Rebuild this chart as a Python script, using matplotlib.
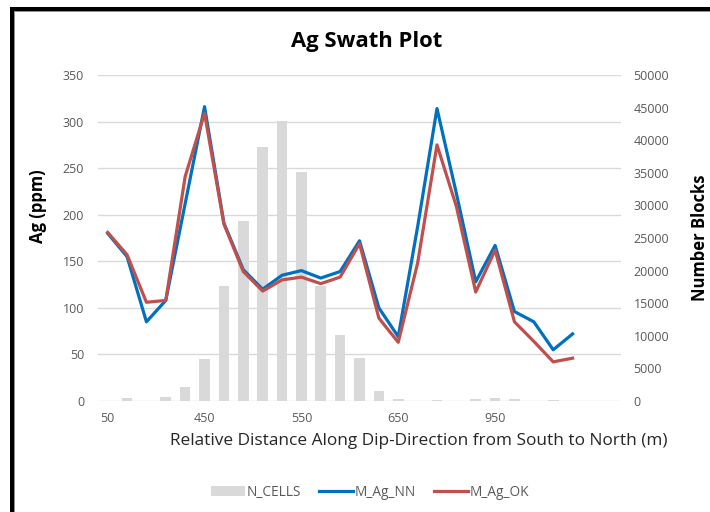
import matplotlib
matplotlib.use("Agg")
import matplotlib.pyplot as plt
from matplotlib.patches import Rectangle
from matplotlib.lines import Line2D
import numpy as np

plt.rcParams['font.family'] = ['Open Sans', 'DejaVu Sans']

# Swath data along dip direction (one value per swath slice)
n_cells = [0, 400, 0, 600, 2100, 6500, 17600, 27600, 39000, 43000, 35100, 17600,
           10100, 6650, 1500, 300, 0, 150, 0, 300, 400, 300, 0, 100, 0]
m_ag_nn = [180, 155, 85, 108, 212, 316, 191, 141, 120, 135, 140, 132, 139, 172,
           100, 69, 187, 314, 223, 128, 167, 96, 85, 55, 72]
m_ag_ok = [181, 157, 106, 108, 241, 309, 190, 139, 118, 130, 133, 126, 133, 169,
           89, 63, 148, 275, 209, 117, 162, 85, 64, 42, 46]
x_tick_labels = ['50', '450', '550', '650', '950']
n_slots = 27

W, H = 710, 512
fig = plt.figure(figsize=(W / 100, H / 100), dpi=100)

left, right, top, bottom = 98, 621, 75, 401
rect = [left / W, 1 - bottom / H, (right - left) / W, (bottom - top) / H]

grey_txt = '#595959'
grid_c = '#D9D9D9'

# base axis: grid + left ticks
ax = fig.add_axes(rect)
ax.set_xlim(-0.5, n_slots - 0.5)
ax.set_ylim(0, 350)
ax.set_yticks(np.arange(0, 351, 50))
ax.grid(axis='y', color=grid_c, linewidth=1)
ax.set_axisbelow(True)
for s in ax.spines.values():
    s.set_visible(False)
ax.tick_params(axis='y', length=0, pad=10, labelsize=9, labelcolor=grey_txt)
ax.set_xticks(np.arange(0, len(m_ag_nn), 5))
ax.set_xticklabels(x_tick_labels)
ax.tick_params(axis='x', length=0, pad=8, labelsize=9, labelcolor=grey_txt)
ax.set_ylabel('Ag (ppm)', fontsize=12, fontweight='bold')
ax.yaxis.set_label_coords((47 - left) / (right - left), (bottom - 206) / (bottom - top))

# block counts on the secondary axis
axb = ax.twinx()
x = np.arange(len(n_cells))
axb.bar(x, n_cells, width=0.55, color='#D9D9D9', zorder=1)
axb.set_ylim(0, 50000)
axb.set_yticks(np.arange(0, 50001, 5000))
for s in axb.spines.values():
    s.set_visible(False)
axb.tick_params(axis='y', length=0, pad=9, labelsize=9, labelcolor=grey_txt)
axb.set_ylabel('Number Blocks', fontsize=12, fontweight='bold')
axb.yaxis.set_label_coords((691 - left) / (right - left), (bottom - 238) / (bottom - top))

# grade profiles on top
axl = ax.twinx()
axl.set_ylim(0, 350)
axl.set_xlim(-0.5, n_slots - 0.5)
axl.set_yticks([])
for s in axl.spines.values():
    s.set_visible(False)
xl = np.arange(len(m_ag_nn))
axl.plot(xl, m_ag_nn, color='#0070C0', linewidth=2.3, solid_joinstyle='round')
axl.plot(xl, m_ag_ok, color='#C0504D', linewidth=2.3, solid_joinstyle='round')

fig.text(367 / W, 1 - 42 / H, 'Ag Swath Plot', ha='center', va='center',
         fontsize=15.8, fontweight='bold')
fig.text(419 / W, 1 - 441 / H,
         'Relative Distance Along Dip-Direction from South to North (m)',
         ha='center', va='center', fontsize=12.4, color='#262626')

handles = [Rectangle((0, 0), 1, 1, facecolor='#D9D9D9'),
           Line2D([], [], color='#0070C0', linewidth=2.3),
           Line2D([], [], color='#C0504D', linewidth=2.3)]
fig.legend(handles, ['N_CELLS', 'M_Ag_NN', 'M_Ag_OK'], loc='center',
           bbox_to_anchor=(370 / W, 1 - 492 / H), ncol=3, frameon=False,
           fontsize=9.8, handlelength=2.5, handletextpad=0.15, columnspacing=1.3,
           labelcolor=grey_txt)

# frame edges
fig.add_artist(Rectangle((10 / W, 0), 4 / W, 1 - 7 / H, transform=fig.transFigure,
                         facecolor='black', edgecolor='none'))
fig.add_artist(Rectangle((10 / W, 1 - 11 / H), 1, 4 / H, transform=fig.transFigure,
                         facecolor='black', edgecolor='none'))
fig.add_artist(Rectangle((14 / W, 0), 1 / W, 1 - 11 / H, transform=fig.transFigure,
                         facecolor='#909090', edgecolor='none'))
fig.add_artist(Rectangle((14 / W, 1 - 12 / H), 1, 1 / H, transform=fig.transFigure,
                         facecolor='#909090', edgecolor='none'))

fig.savefig('out.png', dpi=100)
